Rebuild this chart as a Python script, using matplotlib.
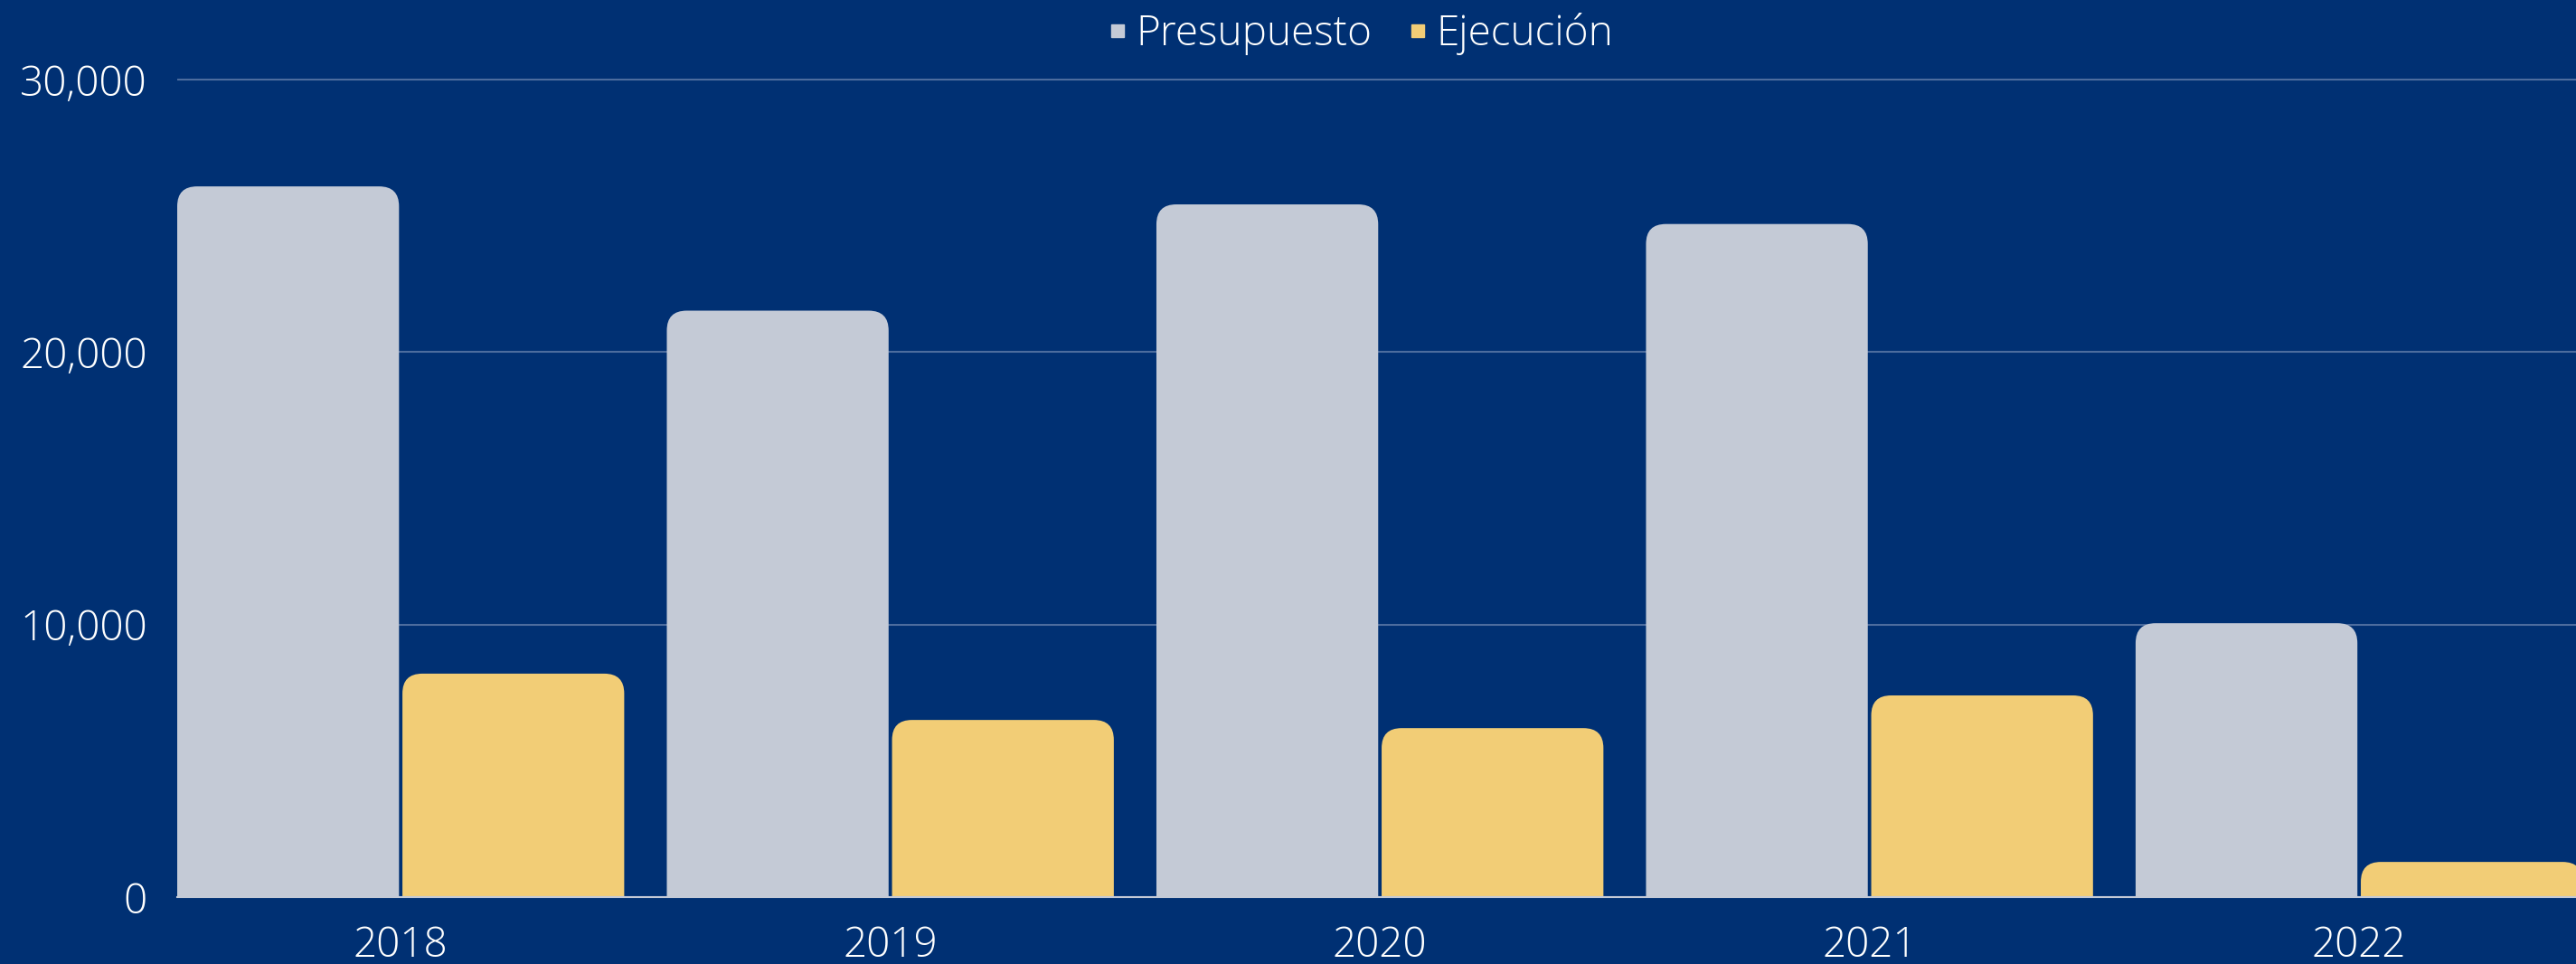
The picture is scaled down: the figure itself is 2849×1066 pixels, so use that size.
import matplotlib
matplotlib.use("Agg")
import matplotlib.pyplot as plt
from matplotlib.patches import FancyBboxPatch
from matplotlib.lines import Line2D
from matplotlib.ticker import FuncFormatter

years = ["2018", "2019", "2020", "2021", "2022"]
presupuesto = [26080, 21520, 25420, 24700, 10050]
ejecucion = [8200, 6500, 6200, 7400, 1290]
yticks = [0, 10000, 20000, 30000]

BG = "#003073"
GRAY = "#C4CAD6"
YELLOW = "#F2CD76"
GRID = "#4C6C9E"

plt.rcParams["font.family"] = ["Open Sans", "DejaVu Sans"]

W, H, DPI = 2849, 1066, 100
fig = plt.figure(figsize=(W / DPI, H / DPI), dpi=DPI, facecolor=BG)

# axes placement in pixels (from top)
left_px, zero_px, top_px, y30_px = 196, 992, 70, 88
ax = fig.add_axes([left_px / W, 1 - zero_px / H, 1 - left_px / W, (zero_px - top_px) / H])
ax.set_facecolor(BG)

ymax = 30000 * (zero_px - top_px) / (zero_px - y30_px)
ax.set_ylim(0, ymax)
ax.set_xlim(-0.4565, 4.443)

w = 0.453
gap = 0.0035
x = list(range(len(years)))
b1 = ax.bar([i - w / 2 - gap for i in x], presupuesto, width=w, color=GRAY, zorder=3)
b2 = ax.bar([i + w / 2 + gap for i in x], ejecucion, width=w, color=YELLOW, zorder=3)

# rounded tops: swap the rectangles for rounded boxes
fig.canvas.draw()
px_per_x = ax.bbox.width / (4.443 + 0.4565)
px_per_y = ax.bbox.height / ymax
r_px = 22
rx = r_px / px_per_x
ry = r_px / px_per_y
for bars in (b1, b2):
    for rect in bars:
        rect.set_visible(False)
        bx, bw, bh = rect.get_x(), rect.get_width(), rect.get_height()
        p = FancyBboxPatch((bx, -ry * 2), bw, bh + ry * 2,
                           boxstyle=f"round,pad=0,rounding_size={rx}",
                           mutation_aspect=ry / rx,
                           facecolor=rect.get_facecolor(), edgecolor="none",
                           zorder=3)
        ax.add_patch(p)

for s in ["top", "right", "left"]:
    ax.spines[s].set_visible(False)
ax.spines["bottom"].set_color(GRAY)
ax.spines["bottom"].set_linewidth(1.5)
ax.spines["bottom"].set_zorder(4)

ax.set_yticks(yticks)
ax.yaxis.set_major_formatter(FuncFormatter(lambda v, p: f"{v:,.0f}"))
ax.grid(axis="y", color=GRID, linewidth=1.5, zorder=0)
ax.set_xticks(x)
ax.set_xticklabels(years)
ax.tick_params(axis="both", length=0, colors="white", labelsize=33)
ax.tick_params(axis="y", pad=24)
ax.tick_params(axis="x", pad=22)
for lab in ax.get_xticklabels() + ax.get_yticklabels():
    lab.set_fontweight("light")

handles = [
    Line2D([], [], marker="s", linestyle="none", color=GRAY, markersize=10),
    Line2D([], [], marker="s", linestyle="none", color=YELLOW, markersize=10),
]
leg = fig.legend(handles, ["Presupuesto", "Ejecución"], loc="center",
                 bbox_to_anchor=(1503 / W, 1 - 38 / H), ncol=2, frameon=False,
                 handletextpad=0.15, columnspacing=0.8, handlelength=0.6,
                 prop={"size": 33, "weight": "light"})
for t in leg.get_texts():
    t.set_color("white")

fig.savefig("out.png", dpi=DPI, facecolor=BG)
